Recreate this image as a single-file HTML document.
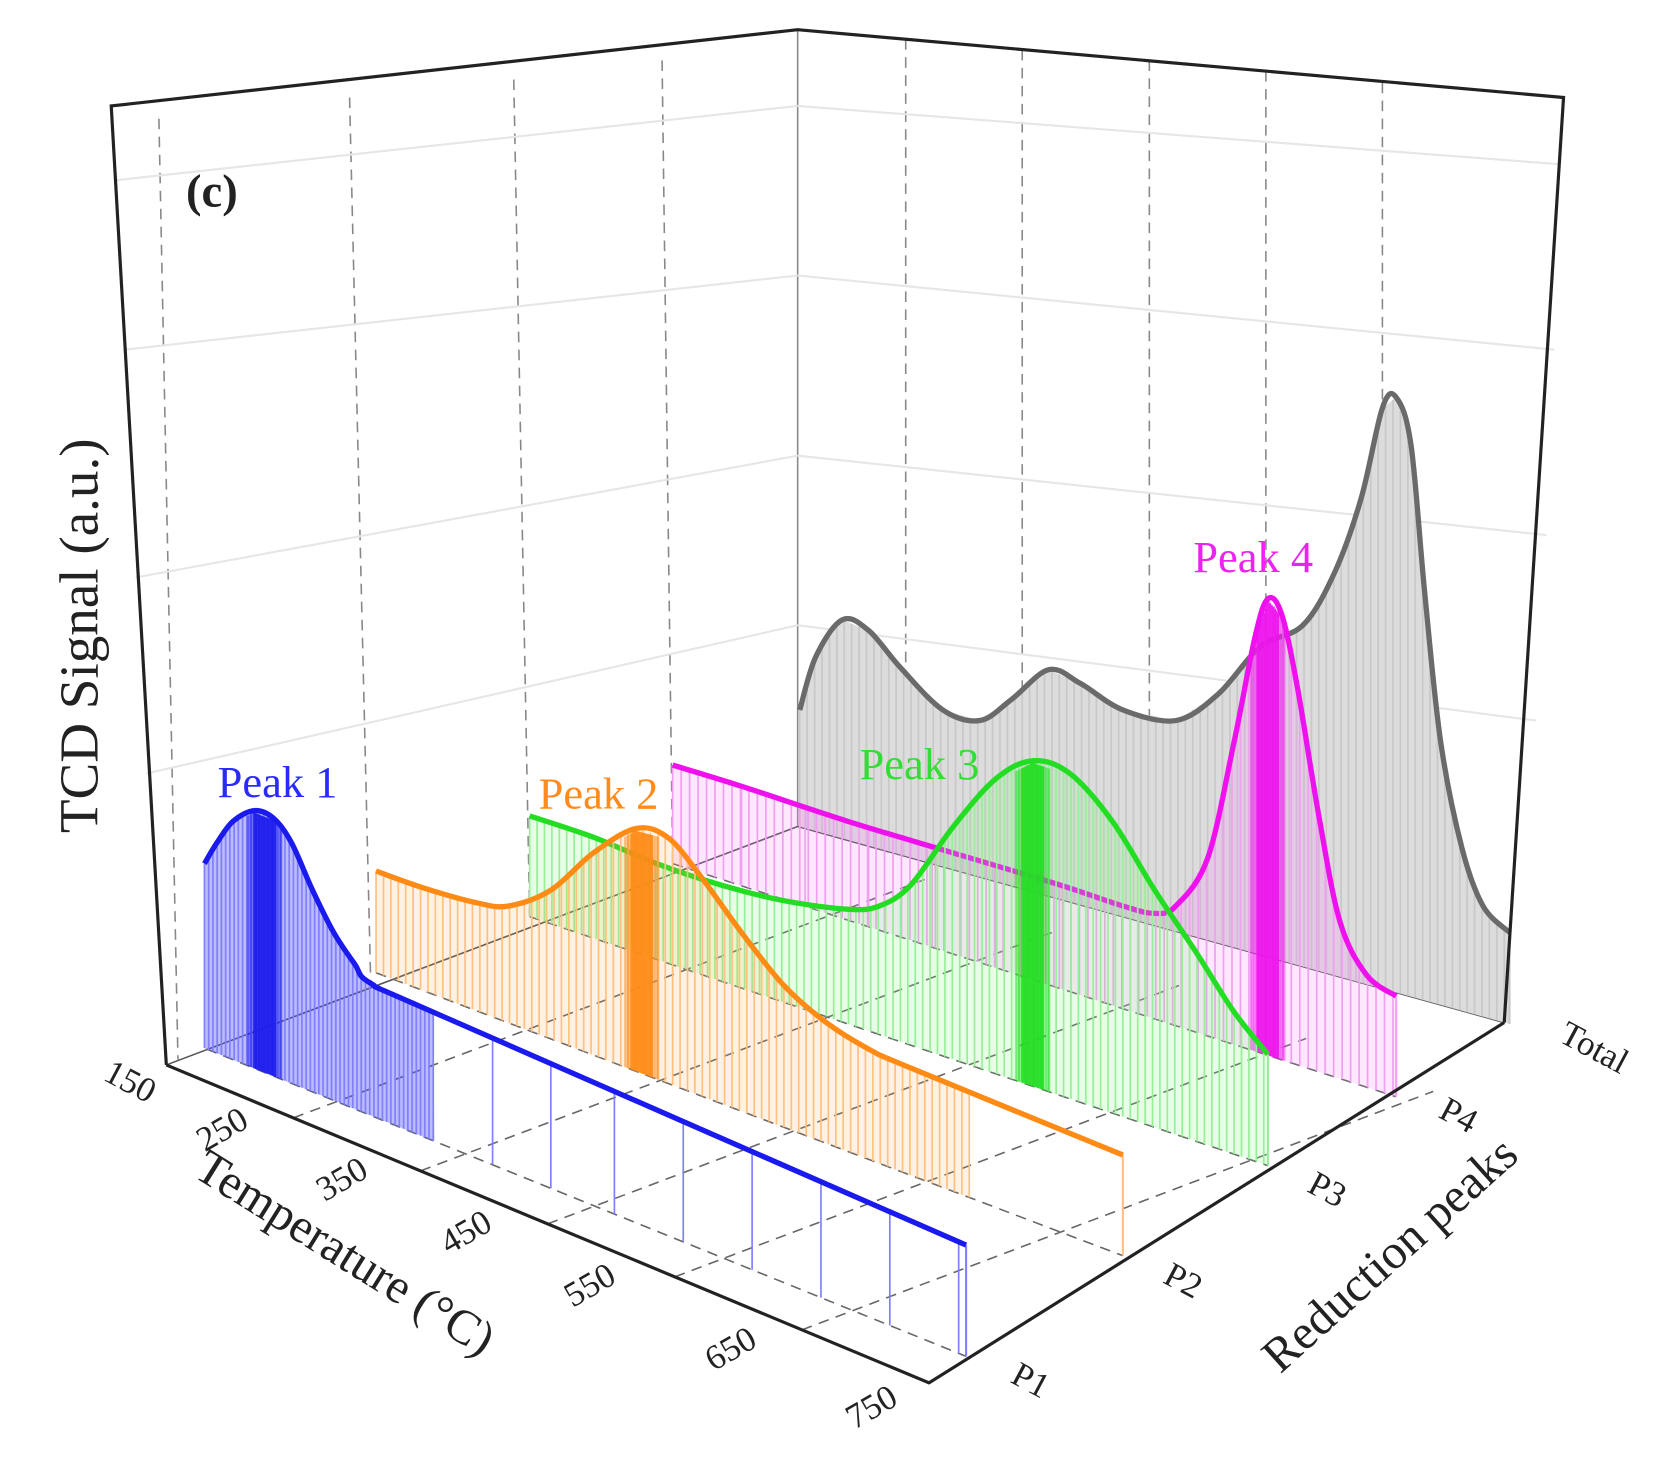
<!DOCTYPE html>
<html><head><meta charset="utf-8"><style>
html,body{margin:0;padding:0;background:#fff;}
svg{display:block;}
text{font-family:"Liberation Serif",serif;}
</style></head><body>
<svg id="s" width="1661" height="1457" viewBox="0 0 1568 1375" preserveAspectRatio="none" xmlns="http://www.w3.org/2000/svg">
<g id="grid" fill="none"></g>
<g id="series"></g>
<g id="frame" fill="none" stroke="#222" stroke-width="3">
<polyline points="157,1005 105,100 753,28 1476,92 1420,965"/>
<polyline points="157,1005 877,1305 1420,965"/>
</g>
<text x="200" y="195" font-size="44" font-weight="bold" text-anchor="middle" fill="#222">(c)</text>
<text transform="translate(92,600) rotate(-90)" font-size="52" text-anchor="middle" fill="#222">TCD Signal (a.u.)</text>
<text x="262" y="752" font-size="42" text-anchor="middle" fill="#2a2aff">Peak 1</text>
<text x="565" y="763" font-size="42" text-anchor="middle" fill="#ff8c1a">Peak 2</text>
<text x="868" y="735" font-size="42" text-anchor="middle" fill="#33dd33">Peak 3</text>
<text x="1183" y="540" font-size="42" text-anchor="middle" fill="#ee22ee">Peak 4</text>
<g font-size="33" fill="#222" text-anchor="middle">
<text transform="translate(118,1030) rotate(28)">150</text>
<text transform="translate(215,1075) rotate(-30)">250</text>
<text transform="translate(328,1122) rotate(-30)">350</text>
<text transform="translate(445,1172) rotate(-30)">450</text>
<text transform="translate(562,1222) rotate(-30)">550</text>
<text transform="translate(695,1282) rotate(-30)">650</text>
<text transform="translate(828,1337) rotate(-30)">750</text>
<text transform="translate(968,1312) rotate(28)">P1</text>
<text transform="translate(1112,1218) rotate(28)">P2</text>
<text transform="translate(1248,1132) rotate(28)">P3</text>
<text transform="translate(1372,1062) rotate(28)">P4</text>
<text transform="translate(1500,998) rotate(28)">Total</text>
</g>
<text transform="translate(318,1195) rotate(32)" font-size="46" text-anchor="middle" fill="#222">Temperature (°C)</text>
<text transform="translate(1322,1195) rotate(-42)" font-size="46" text-anchor="middle" fill="#222">Reduction peaks</text>
</svg>
<script>
var NS="http://www.w3.org/2000/svg";
function el(p,t,a){var e=document.createElementNS(NS,t);for(var k in a)e.setAttribute(k,a[k]);p.appendChild(e);return e;}
var grid=document.getElementById('grid'),ser=document.getElementById('series');
[[150,112,168,1000],[330,92,350,930],[485,75,500,865],[625,57,635,815]].forEach(function(l){el(grid,'line',{x1:l[0],y1:l[1],x2:l[2],y2:l[3],stroke:'#888','stroke-width':1.5,'stroke-dasharray':'10,7'});});
[[855,37,855,800],[965,47,965,830],[1085,57,1085,865],[1195,67,1195,900],[1305,78,1305,930]].forEach(function(l){el(grid,'line',{x1:l[0],y1:l[1],x2:l[2],y2:l[3],stroke:'#888','stroke-width':1.5,'stroke-dasharray':'10,7'});});
el(grid,'line',{x1:753,y1:28,x2:753,y2:780,stroke:'#888','stroke-width':1.5});
[[110,170,753,100],[118,330,753,260],[128,545,753,430],[138,730,753,590]].forEach(function(l){el(grid,'line',{x1:l[0],y1:l[1],x2:l[2],y2:l[3],stroke:'#e6e6e6','stroke-width':2});});
[[753,100,1472,155],[753,260,1467,330],[753,430,1460,505],[753,590,1450,680]].forEach(function(l){el(grid,'line',{x1:l[0],y1:l[1],x2:l[2],y2:l[3],stroke:'#e6e6e6','stroke-width':2});});
el(grid,'line',{x1:157,y1:1005,x2:753,y2:780,stroke:'#555','stroke-width':1.5});
el(grid,'line',{x1:753,y1:780,x2:1420,y2:965,stroke:'#555','stroke-width':1.5});
var fx0=157,fy0=1005,fx1=877,fy1=1305;
for(var i=1;i<6;i++){var t=i/6;var x=fx0+(fx1-fx0)*t,y=fy0+(fy1-fy0)*t;
 el(grid,'line',{x1:x,y1:y,x2:x+596,y2:y-225,stroke:'#666','stroke-width':1.5,'stroke-dasharray':'10,7'});}
var floors={b:[195,990,912,1280],o:[355,918,1060,1185],g:[500,865,1197,1100],m:[635,815,1318,1035],t:[755,780,1420,965]};
['b','o','g','m'].forEach(function(k){var f=floors[k];el(grid,'line',{x1:f[0],y1:f[1],x2:f[2],y2:f[3],stroke:'#666','stroke-width':1.5,'stroke-dasharray':'10,7'});});
function interp(pts,x){for(var i=0;i<pts.length-1;i++){if(x<=pts[i+1][0]){var a=pts[i],b=pts[i+1];var t=(x-a[0])/(b[0]-a[0]);return a[1]+(b[1]-a[1])*t;}}return pts[pts.length-1][1];}
function smooth(pts){var d='M'+pts[0][0]+','+pts[0][1];for(var i=0;i<pts.length-1;i++){var p0=pts[i-1]||pts[i],p1=pts[i],p2=pts[i+1],p3=pts[i+2]||p2;
 d+=' C'+(p1[0]+(p2[0]-p0[0])/6)+','+(p1[1]+(p2[1]-p0[1])/6)+' '+(p2[0]-(p3[0]-p1[0])/6)+','+(p2[1]-(p3[1]-p1[1])/6)+' '+p2[0]+','+p2[1];}return d;}
function floorY(f,x){return f[1]+(f[3]-f[1])*(x-f[0])/(f[2]-f[0]);}
function series(pts,f,col,light,fillc,peakx,step,dropEnd,sparse,fillEnd){
 var g=el(ser,'g',{});
 if(fillc){var fe=fillEnd||pts[pts.length-1][0];var fp=[];for(var x=pts[0][0];x<=fe;x+=2)fp.push(x+','+interp(pts,x));
  fp.push(fe+','+floorY(f,fe));fp.push(pts[0][0]+','+floorY(f,pts[0][0]));
  el(g,'polygon',{points:fp.join(' '),fill:fillc,stroke:'none'});}
 for(var x=pts[0][0];x<=dropEnd;x+=step){el(g,'line',{x1:x,y1:interp(pts,x),x2:x,y2:floorY(f,x),stroke:light,'stroke-width':1.6});}
 if(sparse)sparse.forEach(function(x){el(g,'line',{x1:x,y1:interp(pts,x),x2:x,y2:floorY(f,x),stroke:light,'stroke-width':1.6});});
 var xe=pts[pts.length-1][0];el(g,'line',{x1:xe,y1:interp(pts,xe),x2:xe,y2:floorY(f,xe),stroke:light,'stroke-width':2});
 if(peakx)for(var x=peakx-16;x<=peakx+16;x+=1.5){var w=Math.abs(x-peakx)<11?0.9:0.45;el(g,'line',{x1:x,y1:interp(pts,x)+2,x2:x,y2:floorY(f,x),stroke:col,'stroke-width':2,opacity:w});}
 el(g,'path',{d:smooth(pts),fill:'none',stroke:col,'stroke-width':5});
}
var T=[[755,670],[770,620],[795,585],[820,595],[850,630],[890,670],[925,680],[955,660],[990,632],[1020,645],[1060,670],[1110,680],[1150,655],[1190,610],[1230,590],[1260,540],[1285,470],[1305,385],[1318,375],[1332,420],[1345,560],[1360,700],[1380,800],[1400,855],[1425,880]];
series(T,floors.t,'#6a6a6a','#c8c8c8','#dcdcdc',0,7,1420,null);
var M=[[635,722],[700,742],[800,775],[900,805],[1000,835],[1060,855],[1090,862],[1110,855],[1140,810],[1165,700],[1185,600],[1197,565],[1210,580],[1225,650],[1245,770],[1265,870],[1290,920],[1318,940]];
series(M,floors.m,'#ee11ee','#f0a0f0','rgba(255,120,255,0.18)',1197,8,1318,[700,760,820,880,940,1000]);
var G=[[500,770],[560,790],[620,815],[680,835],[740,850],[800,858],[830,855],[860,835],[900,780],[940,735],[975,718],[1010,730],[1050,775],[1090,840],[1130,900],[1165,955],[1197,995]];
series(G,floors.g,'#22dd22','#99ee99','rgba(120,255,120,0.18)',975,7,1197,null);
var O=[[355,822],[400,838],[450,852],[480,855],[520,840],[560,805],[600,782],[630,790],[660,825],[700,880],[740,930],[780,965],[820,990],[860,1008],[1060,1090]];
series(O,floors.o,'#ff8a14','#ffc080','rgba(255,170,80,0.15)',606,7,915,null,915);
var B=[[193,815],[205,795],[220,775],[240,765],[258,772],[275,795],[295,840],[315,880],[335,910],[350,928],[420,960],[912,1175]];
series(B,floors.b,'#1a1aee','#8080ff','rgba(60,60,255,0.35)',250,4,410,[465,520,580,645,710,775,840,905],410);
</script>
</body></html>
